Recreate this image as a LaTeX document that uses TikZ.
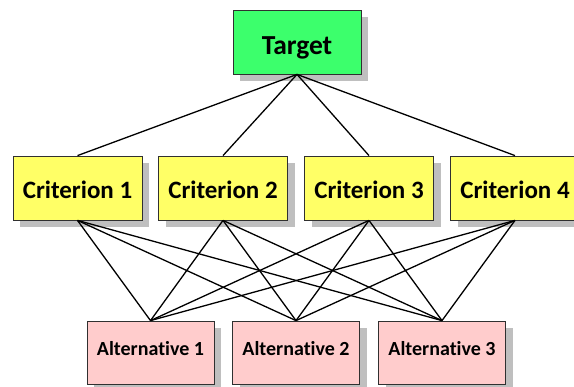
\documentclass[tikz,border=0pt]{standalone}
\usepackage{fontspec}
\setmainfont{Carlito}[Ligatures=NoCommon]
\usetikzlibrary{shadows}
\definecolor{tgreen}{HTML}{3CFF6C}
\definecolor{cyellow}{HTML}{FFFF66}
\definecolor{apink}{HTML}{FFCCCC}
\definecolor{shadowgray}{HTML}{BFBFBF}
\definecolor{boxborder}{HTML}{303030}
\tikzset{
  box/.style={draw=boxborder, line width=0.8pt, inner sep=0pt, text depth=0pt,
    drop shadow={shadow xshift=7pt, shadow yshift=-7pt, fill=shadowgray, opacity=1}},
  targetbox/.style={box, fill=tgreen, minimum width=128pt, minimum height=64pt,
    text height=26pt, font=\fontsize{27.5}{32}\selectfont\bfseries},
  critbox/.style={box, fill=cyellow, minimum width=129pt, minimum height=64pt,
    text height=22pt, font=\fontsize{25}{30}\selectfont\bfseries},
  altbox/.style={box, fill=apink, minimum width=127pt, minimum height=63pt,
    text height=7pt, font=\fontsize{20}{24}\selectfont\bfseries},
  link/.style={draw=black, line width=1.3pt}
}
\begin{document}
\begin{tikzpicture}[x=1pt,y=-1pt]
\useasboundingbox (0,0) rectangle (574,387);
\clip (0,0) rectangle (574,387);
\fill[white] (0,0) rectangle (574,387);
\node[targetbox] (t) at (297,42) {Target};
\node[critbox] (c1) at (77.5,188) {Criterion 1};
\node[critbox] (c2) at (223,188) {Criterion 2};
\node[critbox] (c3) at (369,188) {Criterion 3};
\node[critbox] (c4) at (515,188) {Criterion 4};
\node[altbox] (a1) at (150.5,352.5) {Alternative 1};
\node[altbox] (a2) at (296,352.5) {Alternative 2};
\node[altbox] (a3) at (442,352.5) {Alternative 3};
\foreach \c in {c1,c2,c3,c4}{
  \draw[link] (t.south) -- (\c.north);
  \foreach \a in {a1,a2,a3}{
    \draw[link] (\c.south) -- (\a.north);
  }
}
\end{tikzpicture}
\end{document}
